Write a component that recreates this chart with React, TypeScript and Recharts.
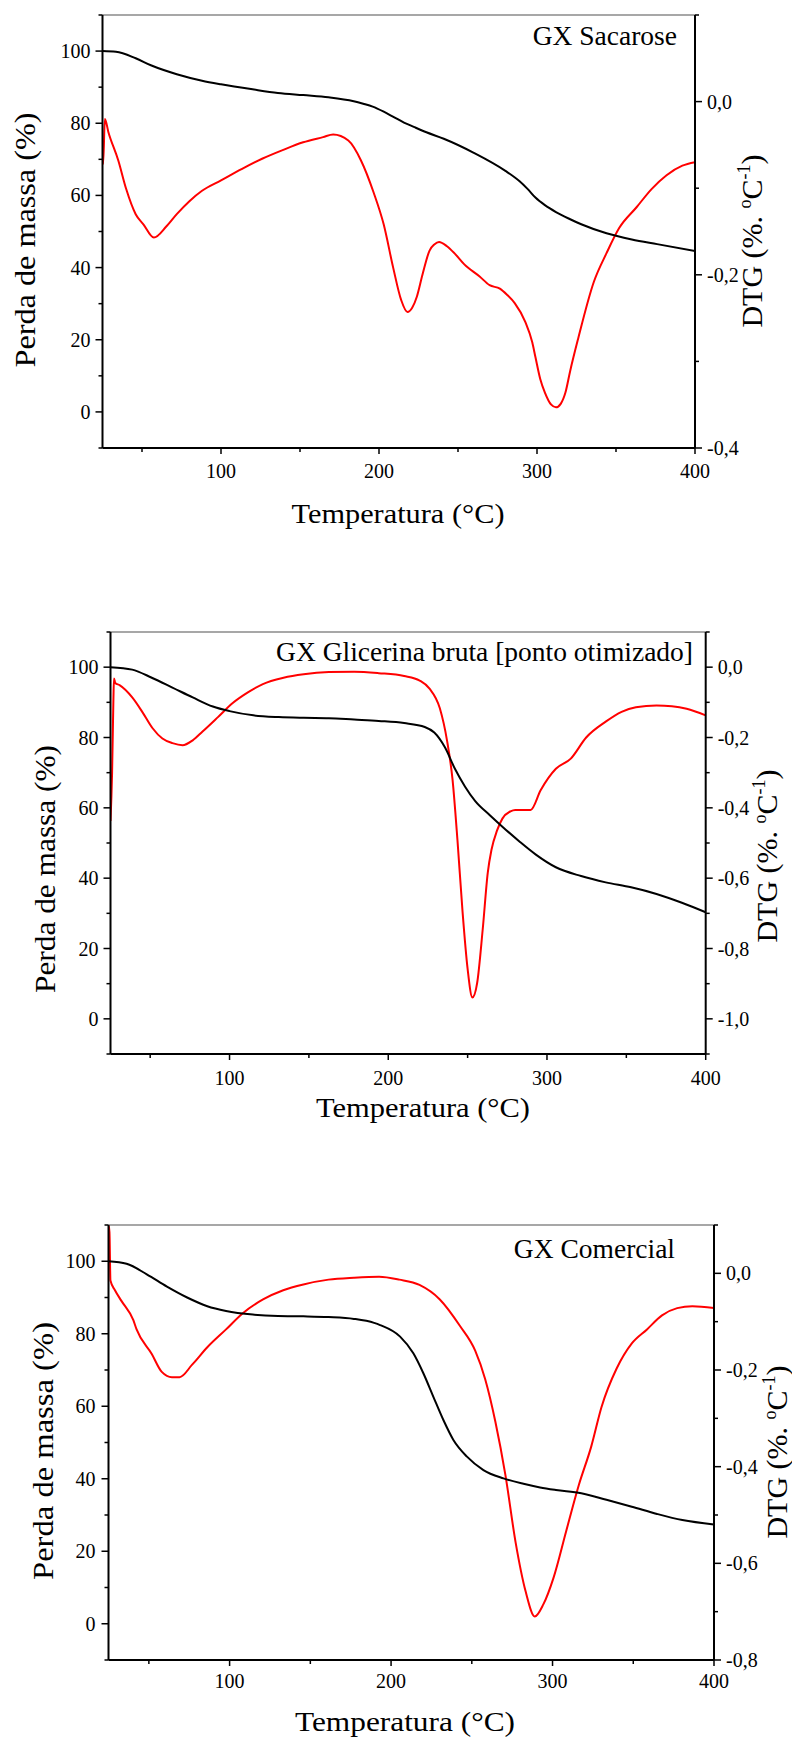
import React from "react";
import { LineChart, Line, XAxis, YAxis } from "recharts";

const FONT = "'Liberation Serif', 'Times New Roman', serif";

// GX Sacarose
const sacTgTemp = [25, 33.5, 46, 56, 72, 88, 100, 120, 136, 152, 168, 184, 190, 196, 203, 209.4, 215.8, 222, 230, 241, 260, 280, 289, 294, 299, 305, 312, 320, 328, 344, 360, 376, 400];
const sacTgMass = [100, 99.8, 98, 96, 93.6, 91.8, 90.8, 89.4, 88.4, 87.8, 87.2, 86.1, 85.4, 84.6, 83.2, 81.7, 80.2, 79, 77.5, 75.7, 71.8, 66.8, 63.9, 61.8, 59.4, 57.3, 55.4, 53.6, 52, 49.5, 47.8, 46.5, 44.6];
const sacDtgTemp = [25, 25.4, 26.5, 28.7, 35, 40, 46, 51, 57.5, 65.5, 72, 80, 88, 100, 113, 126, 139, 152, 164.6, 171, 180.6, 188.6, 196.6, 203, 209, 214, 218, 221, 224, 227.5, 232, 235, 238, 243, 247.7, 254, 263.7, 270, 276.5, 281, 286, 292.5, 297, 299, 302, 305, 309, 312, 315, 318, 321, 326, 336, 344, 352, 363, 372.5, 382, 392, 400];
const sacDtg = [-0.06, -0.072, -0.02, -0.035, -0.068, -0.101, -0.13, -0.142, -0.157, -0.144, -0.13, -0.115, -0.103, -0.091, -0.078, -0.066, -0.056, -0.047, -0.041, -0.038, -0.045, -0.068, -0.105, -0.142, -0.192, -0.229, -0.243, -0.238, -0.225, -0.2, -0.172, -0.165, -0.162, -0.167, -0.175, -0.188, -0.202, -0.212, -0.216, -0.223, -0.233, -0.254, -0.278, -0.295, -0.32, -0.336, -0.35, -0.353, -0.349, -0.336, -0.311, -0.274, -0.208, -0.175, -0.146, -0.122, -0.101, -0.085, -0.074, -0.07];

// GX Glicerina bruta [ponto otimizado]
const gliTgTemp = [25, 38.7, 51, 64, 76.8, 89.5, 100, 115, 131, 146.7, 162.6, 178.5, 194, 210, 223, 229, 235.7, 242, 248.4, 254.8, 264, 274, 283, 293, 305.6, 321.5, 337, 353, 369, 385, 400];
const gliTgMass = [100, 99.3, 97, 94.2, 91.4, 88.8, 87.5, 86.3, 85.8, 85.6, 85.5, 85.1, 84.7, 84.1, 83, 81.4, 77.2, 71.1, 66, 61.9, 57.9, 53.8, 50.3, 46.7, 43.1, 40.6, 38.8, 37.4, 35.5, 33, 30.3];
const gliDtgTemp = [25, 26, 26.8, 27.2, 28, 30.7, 38.7, 45, 51.4, 57.7, 64, 70.4, 76.8, 83, 92.7, 102, 111.8, 121, 134, 146.7, 162.6, 178.5, 194, 210, 219.8, 226, 232.5, 237, 240.5, 243.6, 246.8, 250, 253, 256, 259.5, 262.7, 265, 268.5, 272, 277, 280, 286.5, 289.7, 296, 305.6, 315, 324.7, 337, 347, 356, 369, 378.7, 388, 400];
const gliDtg = [-0.437, -0.3, -0.1, -0.032, -0.045, -0.051, -0.086, -0.127, -0.173, -0.203, -0.216, -0.222, -0.208, -0.183, -0.142, -0.102, -0.071, -0.048, -0.03, -0.02, -0.014, -0.013, -0.017, -0.025, -0.038, -0.061, -0.117, -0.208, -0.32, -0.492, -0.695, -0.858, -0.939, -0.898, -0.746, -0.584, -0.52, -0.465, -0.43, -0.41, -0.406, -0.406, -0.406, -0.35, -0.289, -0.26, -0.2, -0.155, -0.127, -0.114, -0.109, -0.111, -0.118, -0.137];

// GX Comercial
const comTgTemp = [25, 36.2, 48.7, 61.2, 73.7, 86.2, 97.8, 114.4, 130, 145.7, 161.3, 177, 189.5, 193.2, 205.6, 213.8, 220, 226.2, 232.4, 238.6, 247, 257.2, 269.6, 282, 292.3, 302.1, 317.8, 333.4, 349.1, 364.7, 380.4, 400];
const comTgMass = [100, 99.3, 96.4, 93, 90, 87.6, 86.3, 85.3, 84.9, 84.8, 84.6, 84.1, 83, 82.4, 79.2, 74.6, 69.1, 62.6, 56.2, 50.7, 46.1, 42.4, 40.1, 38.6, 37.6, 36.9, 36, 34.2, 32.3, 30.3, 28.6, 27.4];
const comDtgTemp = [25, 25.6, 26.2, 29, 33, 40.4, 42.4, 51.8, 58, 64.3, 69, 76.8, 86.2, 97.8, 108, 120.7, 133.2, 145.7, 161.3, 177, 192.6, 205.1, 217.6, 230.2, 242.7, 252.1, 258.3, 264.6, 270.8, 277.1, 283.4, 289, 294.3, 300.6, 308.4, 316.2, 324, 330.3, 339.7, 349.1, 358.5, 367.8, 377.2, 386.6, 400];
const comDtg = [0.1, 0.085, -0.015, -0.035, -0.057, -0.097, -0.116, -0.167, -0.204, -0.215, -0.215, -0.189, -0.153, -0.116, -0.083, -0.054, -0.035, -0.023, -0.013, -0.009, -0.007, -0.013, -0.024, -0.054, -0.109, -0.16, -0.219, -0.307, -0.417, -0.556, -0.659, -0.71, -0.685, -0.63, -0.534, -0.439, -0.358, -0.277, -0.197, -0.145, -0.116, -0.087, -0.072, -0.068, -0.072];

// axis ticks
const tempTicks = [50, 100, 150, 200, 250, 300, 350, 400];
const tempLabels = [100, 200, 300, 400];
const massTicks = [-10, 0, 10, 20, 30, 40, 50, 60, 70, 80, 90, 100, 110];
const massLabels = [0, 20, 40, 60, 80, 100];
const sacDtgTicks = [-0.4, -0.3, -0.2, -0.1, 0, 0.1];
const sacDtgLabels = [-0.4, -0.2, 0];
const gliDtgTicks = [-1.1, -1.0, -0.9, -0.8, -0.7, -0.6, -0.5, -0.4, -0.3, -0.2, -0.1, 0, 0.1];
const gliDtgLabels = [-1.0, -0.8, -0.6, -0.4, -0.2, 0];
const comDtgTicks = [-0.8, -0.7, -0.6, -0.5, -0.4, -0.3, -0.2, -0.1, 0, 0.1];
const comDtgLabels = [-0.8, -0.6, -0.4, -0.2, 0];

const zip = (t: number[], v: number[]) => t.map((x, i) => ({ t: x, v: v[i] }));
const isLabel = (labels: number[], v: number) => labels.some((l) => Math.abs(l - v) < 1e-6);
const fmtDtg = (v: number) => v.toFixed(1).replace(".", ",");

const makeXTick = (labels: number[], dy: number) => (p: any) => {
  const major = isLabel(labels, p.payload.value);
  return (
    <g>
      <line x1={p.x} x2={p.x} y1={p.y} y2={p.y + (major ? 6 : 4)} stroke="#000" strokeWidth={1.5} />
      {major && (
        <text x={p.x} y={p.y + dy} textAnchor="middle" fontSize={20} fontFamily={FONT} fill="#000">
          {p.payload.value}
        </text>
      )}
    </g>
  );
};

const makeYTick = (labels: number[], side: "left" | "right", gap: number, fmt: (v: number) => string) => (p: any) => {
  const major = isLabel(labels, p.payload.value);
  const s = side === "left" ? -1 : 1;
  return (
    <g>
      <line x1={p.x} x2={p.x + s * (major ? 7 : 4)} y1={p.y} y2={p.y} stroke="#000" strokeWidth={1.5} />
      {major && (
        <text x={p.x + s * gap} y={p.y + 7} textAnchor={side === "left" ? "end" : "start"} fontSize={20} fontFamily={FONT} fill="#000">
          {fmt(p.payload.value)}
        </text>
      )}
    </g>
  );
};

interface PanelSpec {
  top: number;
  height: number;
  plot: { top: number; right: number; bottom: number; left: number };
  tg: { t: number; v: number }[];
  dtg: { t: number; v: number }[];
  dtgDomain: [number, number];
  dtgTicks: number[];
  dtgLabels: number[];
  name: string;
  nameX: number;
  nameY: number;
  xLabelDy: number;
  leftGap: number;
  leftTitle: { x: number; y: number; len: number };
  rightTitle: { x: number; y: number };
  bottomTitle: { x: number; y: number; len: number };
}

// plot = distance of the plot frame from each edge of the panel
const panels: PanelSpec[] = [
  {
    top: 0, height: 540,
    plot: { top: 15, right: 97, bottom: 92, left: 102.5 },
    tg: zip(sacTgTemp, sacTgMass), dtg: zip(sacDtgTemp, sacDtg),
    dtgDomain: [-0.4, 0.1], dtgTicks: sacDtgTicks, dtgLabels: sacDtgLabels,
    name: "GX Sacarose", nameX: 677, nameY: 44.5,
    xLabelDy: 30, leftGap: 12,
    leftTitle: { x: 35, y: 240, len: 255 },
    rightTitle: { x: 762, y: 241 },
    bottomTitle: { x: 398, y: 523, len: 213 },
  },
  {
    top: 590, height: 540,
    plot: { top: 42, right: 86.3, bottom: 76, left: 110.5 },
    tg: zip(gliTgTemp, gliTgMass), dtg: zip(gliDtgTemp, gliDtg),
    dtgDomain: [-1.1, 0.1], dtgTicks: gliDtgTicks, dtgLabels: gliDtgLabels,
    name: "GX Glicerina bruta [ponto otimizado]", nameX: 693, nameY: 71,
    xLabelDy: 31, leftGap: 12,
    leftTitle: { x: 54.5, y: 279, len: 248 },
    rightTitle: { x: 777, y: 266 },
    bottomTitle: { x: 423, y: 527, len: 214 },
  },
  {
    top: 1180, height: 557,
    plot: { top: 45, right: 78, bottom: 77, left: 108.5 },
    tg: zip(comTgTemp, comTgMass), dtg: zip(comDtgTemp, comDtg),
    dtgDomain: [-0.8, 0.1], dtgTicks: comDtgTicks, dtgLabels: comDtgLabels,
    name: "GX Comercial", nameX: 675, nameY: 77.5,
    xLabelDy: 28, leftGap: 13,
    leftTitle: { x: 53, y: 271, len: 258 },
    rightTitle: { x: 787, y: 272 },
    bottomTitle: { x: 405, y: 551, len: 220 },
  },
];

const Panel = ({ spec }: { spec: PanelSpec }) => {
  const W = 792;
  const { leftTitle: lt, rightTitle: rt, bottomTitle: bt, plot } = spec;
  // every axis takes 1px, so the margins sit 1px outside the plot frame
  const margin = { top: plot.top - 1, right: plot.right - 1, bottom: plot.bottom - 1, left: plot.left - 1 };
  return (
    <div style={{ position: "absolute", left: 0, top: spec.top, width: W, height: spec.height }}>
      <LineChart width={W} height={spec.height} margin={margin}>
        <XAxis
          xAxisId="x" type="number" dataKey="t" domain={[25, 400]} allowDataOverflow
          ticks={tempTicks} interval={0} height={1} tickSize={0} tickMargin={0} tickLine={false}
          axisLine={{ stroke: "#000", strokeWidth: 2 }} tick={makeXTick(tempLabels, spec.xLabelDy)}
        />
        <XAxis
          xAxisId="top" orientation="top" type="number" domain={[25, 400]} height={1}
          ticks={[]} tick={false} tickLine={false} axisLine={{ stroke: "#8a8a8a", strokeWidth: 1.3 }}
        />
        <YAxis
          yAxisId="left" type="number" domain={[-10, 110]} allowDataOverflow ticks={massTicks}
          interval={0} width={1} tickSize={0} tickMargin={0} tickLine={false}
          axisLine={{ stroke: "#000", strokeWidth: 2 }}
          tick={makeYTick(massLabels, "left", spec.leftGap, (v) => String(v))}
        />
        <YAxis
          yAxisId="right" orientation="right" type="number" domain={spec.dtgDomain} allowDataOverflow
          ticks={spec.dtgTicks} interval={0} width={1} tickSize={0} tickMargin={0} tickLine={false}
          axisLine={{ stroke: "#000", strokeWidth: 2 }}
          tick={makeYTick(spec.dtgLabels, "right", 12, fmtDtg)}
        />
        <Line xAxisId="x" yAxisId="right" data={spec.dtg} dataKey="v" type="monotone" stroke="#ff0000" strokeWidth={2} dot={false} activeDot={false} isAnimationActive={false} />
        <Line xAxisId="x" yAxisId="left" data={spec.tg} dataKey="v" type="monotone" stroke="#000" strokeWidth={2} dot={false} activeDot={false} isAnimationActive={false} />
      </LineChart>
      <svg width={W} height={spec.height} style={{ position: "absolute", left: 0, top: 0, pointerEvents: "none" }} fontFamily={FONT} fill="#000">
        <text x={spec.nameX} y={spec.nameY} textAnchor="end" fontSize={27.5}>{spec.name}</text>
        <text x={bt.x} y={bt.y} textAnchor="middle" fontSize={28} textLength={bt.len} lengthAdjust="spacingAndGlyphs">
          Temperatura (°C)
        </text>
        <text x={lt.x} y={lt.y} transform={`rotate(-90 ${lt.x} ${lt.y})`} textAnchor="middle" fontSize={30} textLength={lt.len} lengthAdjust="spacingAndGlyphs">
          Perda de massa (%)
        </text>
        <text x={rt.x} y={rt.y} transform={`rotate(-90 ${rt.x} ${rt.y})`} textAnchor="middle" fontSize={30}>
          DTG (%. <tspan dy={-11} fontSize={18}>o</tspan>
          <tspan dy={11}>C</tspan>
          <tspan dy={-12} fontSize={18}>-1</tspan>
          <tspan dy={12}>)</tspan>
        </text>
      </svg>
    </div>
  );
};

export default function App() {
  return (
    <div style={{ position: "absolute", left: 0, top: 0, width: 792, height: 1737, background: "#fff", fontFamily: FONT }}>
      {panels.map((p) => (
        <Panel key={p.name} spec={p} />
      ))}
    </div>
  );
}
